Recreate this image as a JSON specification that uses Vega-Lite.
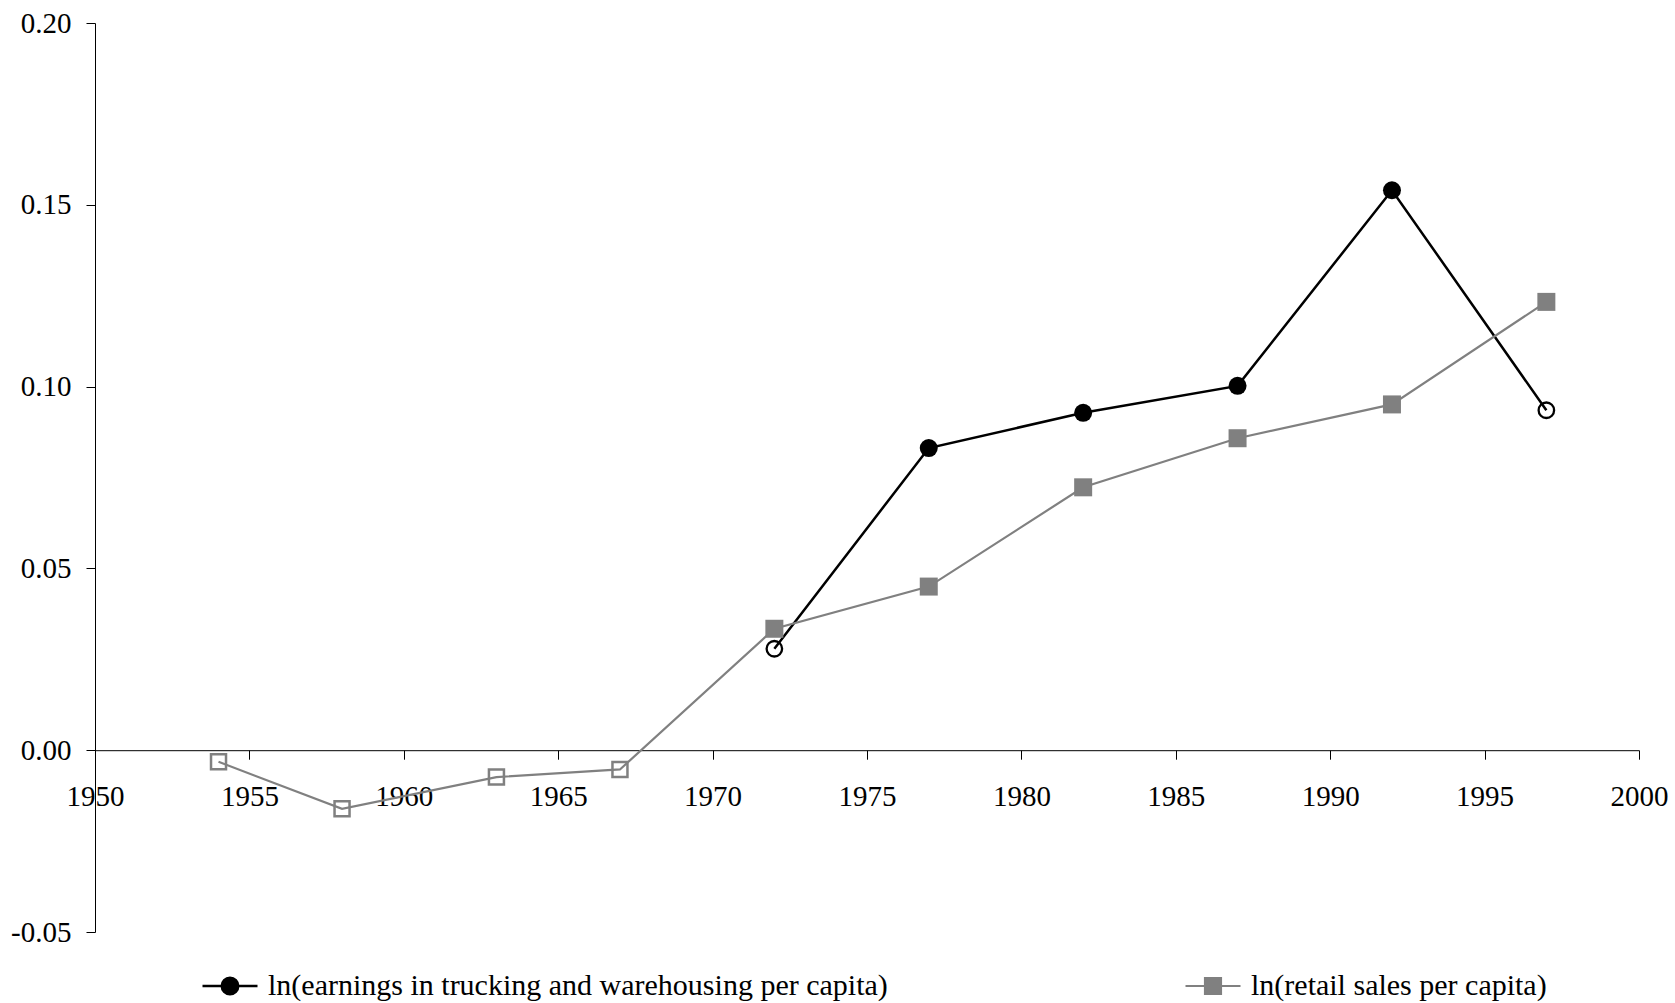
{
  "$schema": "https://vega.github.io/schema/vega-lite/v6.json",
  "autosize": {"type": "none"},
  "padding": {"left": 95, "top": 23, "right": 36, "bottom": 71},
  "width": 1544,
  "height": 909,
  "background": "white",
  "config": {
    "view": {"stroke": null},
    "font": "Liberation Serif",
    "axis": {
      "labelFont": "Liberation Serif",
      "labelFontSize": 29,
      "labelColor": "black",
      "domainColor": "black",
      "tickColor": "black",
      "domainWidth": 1,
      "tickWidth": 1,
      "tickSize": 9,
      "grid": false,
      "title": null
    }
  },
  "data": {
    "values": [
      {"year": 1972, "value": 0.0279, "series": "ln(earnings in trucking and warehousing per capita)", "kind": "earnings", "hollow": true},
      {"year": 1977, "value": 0.0831, "series": "ln(earnings in trucking and warehousing per capita)", "kind": "earnings", "hollow": false},
      {"year": 1982, "value": 0.0928, "series": "ln(earnings in trucking and warehousing per capita)", "kind": "earnings", "hollow": false},
      {"year": 1987, "value": 0.1002, "series": "ln(earnings in trucking and warehousing per capita)", "kind": "earnings", "hollow": false},
      {"year": 1992, "value": 0.1540, "series": "ln(earnings in trucking and warehousing per capita)", "kind": "earnings", "hollow": false},
      {"year": 1997, "value": 0.0935, "series": "ln(earnings in trucking and warehousing per capita)", "kind": "earnings", "hollow": true},
      {"year": 1954, "value": -0.0032, "series": "ln(retail sales per capita)", "kind": "retail", "hollow": true},
      {"year": 1958, "value": -0.0161, "series": "ln(retail sales per capita)", "kind": "retail", "hollow": true},
      {"year": 1963, "value": -0.0074, "series": "ln(retail sales per capita)", "kind": "retail", "hollow": true},
      {"year": 1967, "value": -0.0053, "series": "ln(retail sales per capita)", "kind": "retail", "hollow": true},
      {"year": 1972, "value": 0.0334, "series": "ln(retail sales per capita)", "kind": "retail", "hollow": false},
      {"year": 1977, "value": 0.0450, "series": "ln(retail sales per capita)", "kind": "retail", "hollow": false},
      {"year": 1982, "value": 0.0723, "series": "ln(retail sales per capita)", "kind": "retail", "hollow": false},
      {"year": 1987, "value": 0.0858, "series": "ln(retail sales per capita)", "kind": "retail", "hollow": false},
      {"year": 1992, "value": 0.0951, "series": "ln(retail sales per capita)", "kind": "retail", "hollow": false},
      {"year": 1997, "value": 0.1233, "series": "ln(retail sales per capita)", "kind": "retail", "hollow": false}
    ]
  },
  "encoding": {
    "x": {
      "field": "year", "type": "quantitative",
      "scale": {"domain": [1950, 2000], "nice": false, "zero": false},
      "axis": {"values": [1950,1955,1960,1965,1970,1975,1980,1985,1990,1995,2000], "format": "d", "offset": -181.8, "labelPadding": 23, "labelFlush": false, "labelOverlap": false}
    },
    "y": {
      "field": "value", "type": "quantitative",
      "scale": {"domain": [-0.05, 0.2], "nice": false, "zero": false},
      "axis": {"values": [-0.05, 0, 0.05, 0.1, 0.15, 0.2], "labelExpr": "datum.value < 0 ? '-' + format(-datum.value, '.2f') : format(datum.value, '.2f')", "labelPadding": 15, "labelFlush": false, "labelOverlap": false}
    }
  },
  "layer": [
    {
      "mark": {"type": "line"},
      "encoding": {
        "strokeWidth": {"field": "series", "type": "nominal", "scale": {"domain": ["ln(earnings in trucking and warehousing per capita)", "ln(retail sales per capita)"], "range": [2.5, 2.2]}, "legend": null},
        "color": {
          "field": "series", "type": "nominal",
          "scale": {"domain": ["ln(earnings in trucking and warehousing per capita)", "ln(retail sales per capita)"], "range": ["#000000", "#808080"]},
          "legend": {
            "orient": "none",
            "legendX": 106,
            "legendY": 934,
            "direction": "horizontal",
            "columns": 2,
            "columnPadding": 293,
            "padding": 0,
            "title": null,
            "symbolSize": 3025,
            "symbolStrokeWidth": 2.5,
            "labelFont": "Liberation Serif",
            "labelFontSize": 30,
            "labelColor": "black",
            "labelLimit": 0,
            "labelOffset": 9,
            "encode": {
              "symbols": {
                "update": {
                  "shape": {"signal": "datum.value === 'ln(retail sales per capita)' ? 'M-1,0H1M-0.29,-0.29H0.29V0.29H-0.29Z' : 'M-1,0H1M0.3,0A0.3,0.3 0 1,1 -0.3,0A0.3,0.3 0 1,1 0.3,0Z'"},
                  "fill": {"scale": "color", "field": "value"},
                  "stroke": {"scale": "color", "field": "value"},
                  "strokeWidth": {"value": 2.5},
                  "opacity": {"value": 1},
                  "fillOpacity": {"value": 1}
                }
              }
            }
          }
        }
      }
    },
    {
      "transform": [{"filter": "!datum.hollow && datum.kind === 'earnings'"}],
      "mark": {"type": "point", "filled": true, "shape": "circle", "size": 324, "opacity": 1, "color": "#000000"}
    },
    {
      "transform": [{"filter": "!datum.hollow && datum.kind === 'retail'"}],
      "mark": {"type": "point", "filled": true, "shape": "square", "size": 324, "opacity": 1, "color": "#808080"}
    },
    {
      "transform": [{"filter": "datum.hollow && datum.kind === 'earnings'"}],
      "mark": {"type": "point", "filled": false, "shape": "circle", "size": 240, "strokeWidth": 2.3, "opacity": 1, "color": "#000000"}
    },
    {
      "transform": [{"filter": "datum.hollow && datum.kind === 'retail'"}],
      "mark": {"type": "point", "filled": false, "shape": "square", "size": 225, "strokeWidth": 2.5, "opacity": 1, "color": "#808080"}
    }
  ]
}
